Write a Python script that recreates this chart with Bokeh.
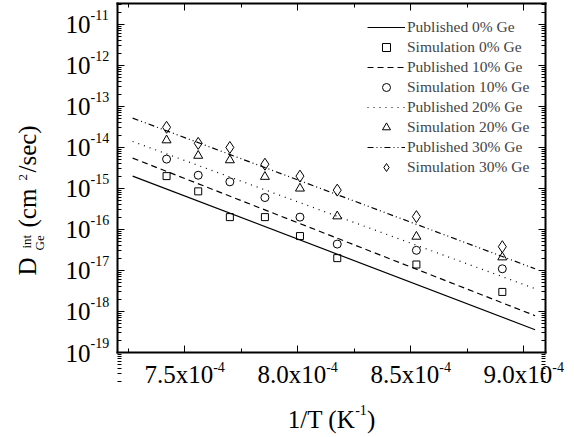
import numpy as np
from bokeh.plotting import figure
from bokeh.models import (Range1d, FixedTicker, LinearAxis, LogAxis, Label, Legend,
                          LegendItem, CustomJSTickFormatter)
from bokeh.embed import file_html
from bokeh.resources import INLINE

# ---------------- data ----------------
inv_T = [7.42e-4, 7.56e-4, 7.70e-4, 7.855e-4, 8.01e-4, 8.175e-4, 8.525e-4, 8.905e-4]
sim_0 = [2.0e-15, 8.5e-16, 2.0e-16, 2.0e-16, 6.9e-17, 2.0e-17, 1.4e-17, 3.0e-18]
sim_10 = [5.2e-15, 2.1e-15, 1.45e-15, 6.0e-16, 2.0e-16, 4.4e-17, 3.1e-17, 1.1e-17]
sim_20 = [1.5e-14, 6.3e-15, 4.9e-15, 1.93e-15, 1.0e-15, 2.1e-16, 6.7e-17, 2.1e-17]
sim_30 = [3.1e-14, 1.26e-14, 1.0e-14, 3.9e-15, 2.0e-15, 9.1e-16, 2.06e-16, 3.8e-17]

pub_x = [7.27e-4, 9.05e-4]
pub_0 = [2.0e-15, 3.6e-19]
pub_10 = [5.5e-15, 7.9e-19]
pub_20 = [1.4e-14, 3.6e-18]
pub_30 = [5.2e-14, 1.1e-17]

legend_labels = ["Published 0% Ge", "Simulation 0% Ge", "Published 10% Ge", "Simulation 10% Ge",
                 "Published 20% Ge", "Simulation 20% Ge", "Published 30% Ge", "Simulation 30% Ge"]

x_ticks = [7.5e-4, 8.0e-4, 8.5e-4, 9.0e-4]
x_minor = [7.25e-4, 7.75e-4, 8.25e-4, 8.75e-4]
x_tick_base = ["7.5x10", "8.0x10", "8.5x10", "9.0x10"]
x_tick_exp = ["-4", "-4", "-4", "-4"]

y_exponents = [-19, -18, -17, -16, -15, -14, -13, -12, -11]
y_ticks = [10.0 ** e for e in y_exponents]
y_tick_base = ["10"] * len(y_exponents)
y_tick_exp = [str(e) for e in y_exponents]
y_minor = [k * 10.0 ** e for e in range(-20, -10) for k in range(2, 10)]

# axis box limits (data units)
X_START, X_END = 7.203e-4, 9.096e-4
Y_START, Y_END = 1e-19, 10 ** -10.49

# ---------------- layout (pixels) ----------------
W, H = 574, 437
BOX_L, BOX_R, BOX_T, BOX_B = 117, 545, 3, 352
# the plotting frame spans the whole canvas; the axis box sits inside it
dx = (X_END - X_START) / (BOX_R - BOX_L)
xr = Range1d(X_START - BOX_L * dx, X_END + (W - BOX_R) * dx)
ly0, ly1 = np.log10(Y_START), np.log10(Y_END)
dy = (ly1 - ly0) / (BOX_B - BOX_T)
yr = Range1d(10 ** (ly0 - (H - BOX_B) * dy), 10 ** (ly1 + BOX_T * dy))

FONT = "Liberation Serif"
MAIN = "25px"
SUP = "14px"
SMALL = "13px"
# baseline correction of the text boxes (pixels)
CM, CS = 8.0, 4.4

p = figure(width=W, height=H, y_axis_type="log", x_range=xr, y_range=yr,
           x_axis_location=None, y_axis_location=None,
           output_backend="svg", toolbar_location=None, min_border=0)
p.xgrid.visible = False
p.ygrid.visible = False
p.outline_line_color = None
p.background_fill_color = "white"
p.border_fill_color = "white"

blank = CustomJSTickFormatter(code="return ''")


def style_axis(ax):
    ax.axis_line_width = 2
    ax.axis_line_color = "black"
    ax.axis_line_cap = "square"
    ax.major_tick_in = 7
    ax.major_tick_out = 0
    ax.minor_tick_in = 4
    ax.minor_tick_out = 0
    ax.major_tick_line_color = "black"
    ax.minor_tick_line_color = "black"
    ax.major_tick_line_width = 1
    ax.minor_tick_line_width = 1
    ax.formatter = blank
    ax.major_label_standoff = 0
    ax.major_label_text_font_size = "1px"


xt = FixedTicker(ticks=x_ticks, minor_ticks=x_minor)
yt = FixedTicker(ticks=y_ticks, minor_ticks=y_minor)

for loc, fixed in (("below", Y_START), ("above", Y_END)):
    ax = LinearAxis(ticker=xt, fixed_location=fixed, bounds=(X_START, X_END))
    style_axis(ax)
    p.add_layout(ax, loc)
for loc, fixed in (("left", X_START), ("right", X_END)):
    ax = LogAxis(ticker=yt, fixed_location=fixed, bounds=(Y_START, Y_END))
    style_axis(ax)
    p.add_layout(ax, loc)

# ---------------- lines and markers ----------------
r_p0 = p.line(pub_x, pub_0, line_color="black", line_width=1.2)
r_s0 = p.scatter(inv_T, sim_0, marker="square", size=7, fill_color=None, line_color="black", line_width=1)
r_p10 = p.line(pub_x, pub_10, line_color="black", line_width=1.2, line_dash="6 4")
r_s10 = p.scatter(inv_T, sim_10, marker="circle", size=8, fill_color=None, line_color="black", line_width=1)
r_p20 = p.line(pub_x, pub_20, line_color="black", line_width=1.2, line_dash="1 5")
r_s20 = p.scatter(inv_T, sim_20, marker="triangle", size=9, fill_color=None, line_color="black", line_width=1)
r_p30 = p.line(pub_x, pub_30, line_color="black", line_width=1.2, line_dash="6 3 1 3 1 3")
r_s30 = p.scatter(inv_T, sim_30, marker="diamond", size=12, fill_color=None,
                  line_color="black", line_width=1)

renderers = [r_p0, r_s0, r_p10, r_s10, r_p20, r_s20, r_p30, r_s30]
legend = Legend(items=[LegendItem(label=l, renderers=[r]) for l, r in zip(legend_labels, renderers)],
                location=(367, 260), border_line_color=None, background_fill_alpha=0,
                label_text_font=FONT, label_text_font_size="15.5px",
                glyph_width=38, glyph_height=20, label_height=20, spacing=0,
                padding=0, margin=0, label_standoff=2)
p.add_layout(legend)


def lab(x, y, text, size, xo, yo, align="left", baseline="alphabetic", angle=0.0):
    p.add_layout(Label(x=x, y=y, text=text, text_font=FONT, text_font_size=size,
                       text_color="black", text_align=align, text_baseline=baseline,
                       x_offset=xo, y_offset=yo, angle=angle))


# x tick labels
for t, b, e in zip(x_ticks, x_tick_base, x_tick_exp):
    lab(t, Y_START, b, MAIN, 28.5, -30 + CM, align="right")
    lab(t, Y_START, e, SUP, 28.5, -19 + CS, align="left")

# y tick labels
for t, b, e in zip(y_ticks, y_tick_base, y_tick_exp):
    lab(X_START, t, b, MAIN, -27, -8.5 + CM, align="right")
    lab(X_START, t, e, SUP, -27, 4.7 + CS, align="left")

# x axis title
xmid = (X_START + X_END) / 2
lab(xmid, Y_START, "1/T (K", MAIN, 23.7, -75 + CM, align="right")
lab(xmid, Y_START, "-1", SUP, 23.7, -62 + CS, align="left")
lab(xmid, Y_START, ")", MAIN, 35.4, -75 + CM, align="left")

# y axis title (rotated)
A = np.pi / 2
lab(X_START, Y_START, "D", MAIN, -82 - CM, 77, angle=A)
lab(X_START, Y_START, "Ge", SMALL, -74 - CS, 102, angle=A)
lab(X_START, Y_START, "int", SMALL, -87 - CS, 104, angle=A)
lab(X_START, Y_START, "(cm", MAIN, -82 - CM, 125, angle=A)
lab(X_START, Y_START, "2", SMALL, -90 - CS, 172, angle=A)
lab(X_START, Y_START, "/sec)", MAIN, -82 - CM, 180, angle=A)

open("out.html", "w").write(file_html(p, INLINE))
